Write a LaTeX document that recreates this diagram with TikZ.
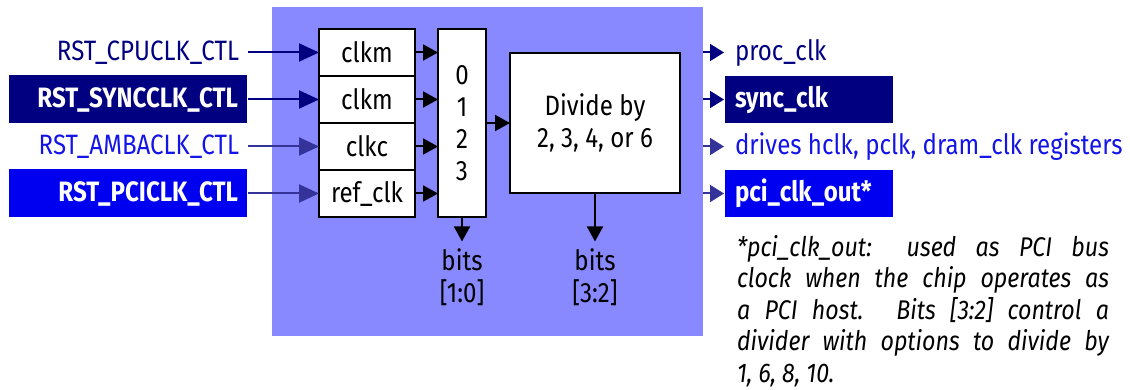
\documentclass[tikz,border=0pt]{standalone}
\usepackage{fontspec}
\setmainfont{Fira Sans}[FakeStretch=0.86]
\usetikzlibrary{positioning,arrows.meta}
\definecolor{navy}{HTML}{000080}
\definecolor{pciblue}{HTML}{0000F0}
\definecolor{linkblue}{HTML}{1414E6}
\definecolor{slate}{HTML}{333399}
\definecolor{chipbg}{HTML}{8888FF}

\begin{document}
\begin{tikzpicture}[x=1pt,y=-1pt,line width=2pt,
    font=\fontsize{28}{32}\selectfont,
    >={Triangle[length=20pt,width=18pt]},
    cell/.style={draw,fill=white,outer sep=0pt,inner sep=0pt,
      minimum width=96pt,minimum height=47pt,align=center},
    inlabel/.style={anchor=east,inner xsep=8pt,inner ysep=0pt},
    inbox/.style={anchor=east,text width=220pt,align=right,inner xsep=9pt,
      minimum height=48pt,text=white,font=\fontsize{28}{32}\selectfont\bfseries},
    outlabel/.style={anchor=west,inner xsep=10pt,inner ysep=0pt},
    outbox/.style={anchor=west,text width=148pt,align=left,inner xsep=10pt,
      minimum height=47pt,text=white,font=\fontsize{28}{32}\selectfont\bfseries},
    short/.style={-{Triangle[length=15pt,width=16pt]}},
    tiny/.style={-{Triangle[length=14pt,width=17pt]}}]
  \useasboundingbox (0,0) rectangle (1130,390);
  \node[fill=chipbg,anchor=north west,inner sep=0pt,outer sep=0pt,
    minimum width=431pt,minimum height=329pt] (chip) at (272,7) {};
  % clock select cells
  \node[cell] (c0) at (367,52.5)   {clkm};
  \node[cell] (c1) [below=0pt of c0] {clkm};
  \node[cell] (c2) [below=0pt of c1] {clkc};
  \node[cell] (c3) [below=0pt of c2] {ref\_clk};
  \node[cell,minimum width=48pt,minimum height=188pt] (mux) at (462,123) {0\\1\\2\\3};
  \node[cell,minimum width=170pt,minimum height=140pt] (div) at (595,123) {Divide by\\2, 3, 4, or 6};
  \node[inner ysep=6pt,align=center] (bitsa) at (462,277) {bits\\{}[1:0]};
  \node[inner ysep=6pt,align=center] (bitsb) at (595,277) {bits\\{}[3:2]};
  % control registers
  \node[inlabel,text=navy]      (cpu)  at (248,52.5)  {RST\_CPUCLK\_CTL};
  \node[inbox,fill=navy]        (sync) at (248,99.5)  {RST\_SYNCCLK\_CTL};
  \node[inlabel,text=linkblue]  (amba) at (248,146.5) {RST\_AMBACLK\_CTL};
  \node[inbox,fill=pciblue]     (pci)  at (248,193.5) {RST\_PCICLK\_CTL};
  % outputs
  \node[outlabel,text=navy]     (proc)   at (724,52.5)  {proc\_clk};
  \node[outbox,fill=navy]       (synco)  at (724,99.5)  {sync\_clk};
  \node[outlabel,text=linkblue] (drives) at (724,146.5) {drives hclk, pclk, dram\_clk registers};
  \node[outbox,fill=pciblue]    (pcio)   at (724,193.5) {pci\_clk\_out*};
  \node[anchor=north west,inner sep=0pt,text width=372pt,align=justify,
    font=\fontsize{27}{31.5}\selectfont\itshape] (note) at (736,234)
    {*pci\_clk\_out: used as PCI bus\linebreak
     clock when the chip operates as\linebreak
     a PCI host. Bits [3:2] control a\linebreak
     divider with options to divide by\linebreak
     1, 6, 8, 10.};
  \path[->]
  (cpu)  edge[navy]  (c0)
  (sync) edge[navy]  (c1)
  (amba) edge[slate] (c2)
  (pci)  edge[slate] (c3);
  \path[short]
  (c0) edge (c0 -| mux.west)
  (c1) edge (c1 -| mux.west)
  (c2) edge (c2 -| mux.west)
  (c3) edge (c3 -| mux.west)
  (mux) edge (div)
  (mux) edge (bitsa)
  (div) edge (bitsb);
  \path[tiny]
  (chip.east |- c0) edge[navy]  (proc)
  (chip.east |- c1) edge[navy]  (synco)
  (chip.east |- c2) edge[slate] (drives)
  (chip.east |- c3) edge[slate] (pcio);
\end{tikzpicture}
\end{document}
